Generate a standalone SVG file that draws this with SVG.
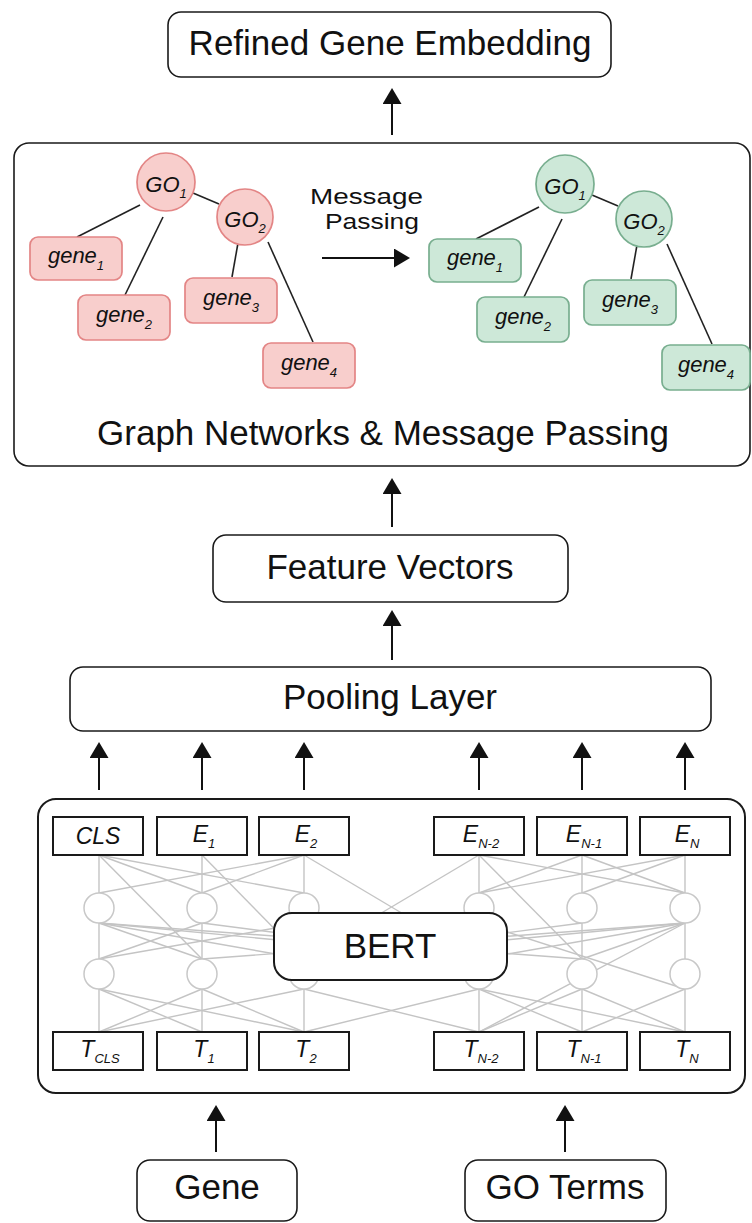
<svg xmlns="http://www.w3.org/2000/svg" width="752" height="1223" viewBox="0 0 752 1223">
  <defs>
    <marker id="ah" markerUnits="userSpaceOnUse" markerWidth="16" markerHeight="19" viewBox="0 0 16 19" refX="0" refY="9.5" orient="auto">
      <path d="M0,0 L16,9.5 L0,19 z" fill="#111"/>
    </marker>
    <style>
      .box { fill: #fff; stroke: #1a1a1a; stroke-width: 1.6; }
      .big { font-family: "Liberation Sans", Arial, sans-serif; font-size: 35px; fill: #111; text-anchor: middle; }
      .mid { font-family: "Liberation Sans", Arial, sans-serif; font-size: 22px; fill: #111; text-anchor: middle; }
      .it { font-family: "Liberation Sans", Arial, sans-serif; font-style: italic; fill: #111; text-anchor: middle; }
      .sub { font-size: 13px; }
      .tok { fill: #fff; stroke: #1a1a1a; stroke-width: 2; }
      .arrow { stroke: #111; stroke-width: 2; fill: none; marker-end: url(#ah); }
      .edge { stroke: #222; stroke-width: 1.6; fill: none; }
      .red { fill: #f8cecc; stroke: #e38585; stroke-width: 1.7; }
      .green { fill: #cde8d8; stroke: #78ae8f; stroke-width: 1.7; }
      .net line { stroke: #c4c4c4; stroke-width: 1.4; }
      .neuron { fill: #fff; stroke: #c8c8c8; stroke-width: 1.5; }
    </style>
  </defs>

  <!-- output -->
  <g id="refined">
    <rect class="box" x="168" y="12" width="443" height="65" rx="13"/>
    <text class="big" x="390" y="55">Refined Gene Embedding</text>
  </g>

  <!-- graph panel -->
  <g id="graph-panel">
    <rect class="box" x="14" y="143" width="736" height="323" rx="15"/>
    <text class="big" x="383" y="445">Graph Networks &amp; Message Passing</text>
    <text class="mid" x="366.5" y="204" textLength="113" lengthAdjust="spacingAndGlyphs">Message</text>
    <text class="mid" x="372" y="229" textLength="94" lengthAdjust="spacingAndGlyphs">Passing</text>
  </g>

  <!-- graph before message passing -->
  <g id="graph-before">
    <line class="edge" x1="193" y1="193" x2="219" y2="204"/>
    <line class="edge" x1="77" y1="237" x2="140" y2="205"/>
    <line class="edge" x1="125" y1="295" x2="163" y2="217"/>
    <line class="edge" x1="232" y1="277" x2="238" y2="243"/>
    <line class="edge" x1="313" y1="342" x2="268" y2="242"/>
    <circle class="red" cx="166" cy="182" r="29"/>
    <circle class="red" cx="245" cy="217" r="28"/>
    <rect class="red" x="30" y="237" width="92" height="43" rx="8"/>
    <rect class="red" x="78" y="295" width="92" height="45" rx="8"/>
    <rect class="red" x="185" y="278" width="92" height="45" rx="8"/>
    <rect class="red" x="263" y="343" width="92" height="45" rx="8"/>
    <text class="it" font-size="22" x="166" y="192">GO<tspan class="sub" dy="6">1</tspan></text>
    <text class="it" font-size="22" x="245" y="227">GO<tspan class="sub" dy="6">2</tspan></text>
    <text class="it" font-size="22" x="76" y="263">gene<tspan class="sub" dy="7">1</tspan></text>
    <text class="it" font-size="22" x="124" y="322">gene<tspan class="sub" dy="7">2</tspan></text>
    <text class="it" font-size="22" x="231" y="305">gene<tspan class="sub" dy="7">3</tspan></text>
    <text class="it" font-size="22" x="309" y="370">gene<tspan class="sub" dy="7">4</tspan></text>
  </g>

  <!-- graph after message passing -->
  <g id="graph-after">
    <line class="edge" x1="592" y1="195" x2="618" y2="206"/>
    <line class="edge" x1="476" y1="239" x2="539" y2="207"/>
    <line class="edge" x1="524" y1="297" x2="562" y2="219"/>
    <line class="edge" x1="631" y1="279" x2="637" y2="245"/>
    <line class="edge" x1="712" y1="344" x2="667" y2="244"/>
    <circle class="green" cx="565" cy="184" r="29"/>
    <circle class="green" cx="644" cy="219" r="28"/>
    <rect class="green" x="429" y="239" width="92" height="43" rx="8"/>
    <rect class="green" x="477" y="297" width="92" height="45" rx="8"/>
    <rect class="green" x="584" y="280" width="92" height="45" rx="8"/>
    <rect class="green" x="662" y="345" width="88" height="45" rx="8"/>
    <text class="it" font-size="22" x="565" y="194">GO<tspan class="sub" dy="6">1</tspan></text>
    <text class="it" font-size="22" x="644" y="229">GO<tspan class="sub" dy="6">2</tspan></text>
    <text class="it" font-size="22" x="475" y="265">gene<tspan class="sub" dy="7">1</tspan></text>
    <text class="it" font-size="22" x="523" y="324">gene<tspan class="sub" dy="7">2</tspan></text>
    <text class="it" font-size="22" x="630" y="307">gene<tspan class="sub" dy="7">3</tspan></text>
    <text class="it" font-size="22" x="706" y="372">gene<tspan class="sub" dy="7">4</tspan></text>
  </g>

  <g id="feature-vectors">
    <rect class="box" x="213" y="535" width="355" height="67" rx="13"/>
    <text class="big" x="390" y="579">Feature Vectors</text>
  </g>

  <g id="pooling">
    <rect class="box" x="70" y="667" width="641" height="64" rx="13"/>
    <text class="big" x="390" y="709">Pooling Layer</text>
  </g>

  <!-- BERT encoder -->
  <g id="bert">
    <rect fill="#fff" stroke="#1a1a1a" stroke-width="2" x="38" y="799" width="707" height="294" rx="18"/>
    <g class="net">
      <!-- column verticals -->
      <line x1="99" y1="855" x2="99" y2="1032"/>
      <line x1="202" y1="855" x2="202" y2="1032"/>
      <line x1="304" y1="855" x2="304" y2="1032"/>
      <line x1="479" y1="855" x2="479" y2="1032"/>
      <line x1="582" y1="855" x2="582" y2="1032"/>
      <line x1="685" y1="855" x2="685" y2="1032"/>
      <!-- outputs to upper layer -->
      <line x1="99" y1="855" x2="202" y2="893"/>
      <line x1="99" y1="855" x2="304" y2="893"/>
      <line x1="99" y1="855" x2="202" y2="959"/>
      <line x1="202" y1="855" x2="304" y2="959"/>
      <line x1="304" y1="855" x2="99" y2="893"/>
      <line x1="304" y1="855" x2="202" y2="893"/>
      <line x1="304" y1="855" x2="479" y2="959"/>
      <line x1="479" y1="855" x2="304" y2="959"/>
      <line x1="479" y1="855" x2="582" y2="959"/>
      <line x1="479" y1="855" x2="685" y2="893"/>
      <line x1="582" y1="855" x2="479" y2="893"/>
      <line x1="582" y1="855" x2="685" y2="893"/>
      <line x1="685" y1="855" x2="582" y2="893"/>
      <line x1="685" y1="855" x2="479" y2="893"/>
      <!-- upper layer to lower layer -->
      <line x1="99" y1="923" x2="202" y2="959"/>
      <line x1="99" y1="923" x2="304" y2="959"/>
      <line x1="99" y1="923" x2="479" y2="959"/>
      <line x1="99" y1="923" x2="582" y2="959"/>
      <line x1="202" y1="923" x2="99" y2="959"/>
      <line x1="202" y1="923" x2="479" y2="959"/>
      <line x1="304" y1="923" x2="99" y2="959"/>
      <line x1="685" y1="923" x2="582" y2="959"/>
      <line x1="685" y1="923" x2="479" y2="959"/>
      <line x1="685" y1="923" x2="304" y2="959"/>
      <line x1="685" y1="923" x2="202" y2="959"/>
      <line x1="582" y1="923" x2="304" y2="959"/>
      <line x1="479" y1="923" x2="685" y2="989"/>
      <line x1="685" y1="923" x2="479" y2="1032"/>
      <!-- lower layer to token inputs -->
      <line x1="99" y1="989" x2="202" y2="1032"/>
      <line x1="99" y1="989" x2="304" y2="1032"/>
      <line x1="202" y1="989" x2="99" y2="1032"/>
      <line x1="202" y1="989" x2="304" y2="1032"/>
      <line x1="304" y1="989" x2="99" y2="1032"/>
      <line x1="304" y1="989" x2="479" y2="1032"/>
      <line x1="479" y1="989" x2="304" y2="1032"/>
      <line x1="479" y1="989" x2="582" y2="1032"/>
      <line x1="479" y1="989" x2="685" y2="1032"/>
      <line x1="582" y1="989" x2="479" y2="1032"/>
      <line x1="582" y1="989" x2="685" y2="1032"/>
      <line x1="685" y1="989" x2="582" y2="1032"/>
    </g>
    <g id="neurons">
      <circle class="neuron" cx="99" cy="908" r="15"/>
      <circle class="neuron" cx="202" cy="908" r="15"/>
      <circle class="neuron" cx="304" cy="908" r="15"/>
      <circle class="neuron" cx="479" cy="908" r="15"/>
      <circle class="neuron" cx="582" cy="908" r="15"/>
      <circle class="neuron" cx="685" cy="908" r="15"/>
      <circle class="neuron" cx="99" cy="974" r="15"/>
      <circle class="neuron" cx="202" cy="974" r="15"/>
      <circle class="neuron" cx="304" cy="974" r="15"/>
      <circle class="neuron" cx="479" cy="974" r="15"/>
      <circle class="neuron" cx="582" cy="974" r="15"/>
      <circle class="neuron" cx="685" cy="974" r="15"/>
    </g>
    <g id="bert-core">
      <rect fill="#fff" stroke="#1a1a1a" stroke-width="2" x="274" y="913" width="233" height="67" rx="18"/>
      <text class="big" x="390" y="958">BERT</text>
    </g>
  </g>

  <!-- output embeddings -->
  <g id="emb-cls"><rect class="tok" x="53" y="817" width="90" height="38"/><text class="it" font-size="23" x="98" y="844">CLS</text></g>
  <g id="emb-1"><rect class="tok" x="157" y="817" width="90" height="38"/><text class="it" font-size="23" x="204" y="842">E<tspan class="sub" dy="6">1</tspan></text></g>
  <g id="emb-2"><rect class="tok" x="259" y="817" width="90" height="38"/><text class="it" font-size="23" x="306" y="842">E<tspan class="sub" dy="6">2</tspan></text></g>
  <g id="emb-n2"><rect class="tok" x="434" y="817" width="90" height="38"/><text class="it" font-size="23" x="481" y="842">E<tspan class="sub" dy="6">N-2</tspan></text></g>
  <g id="emb-n1"><rect class="tok" x="537" y="817" width="90" height="38"/><text class="it" font-size="23" x="584" y="842">E<tspan class="sub" dy="6">N-1</tspan></text></g>
  <g id="emb-n"><rect class="tok" x="640" y="817" width="90" height="38"/><text class="it" font-size="23" x="687" y="842">E<tspan class="sub" dy="6">N</tspan></text></g>

  <!-- input tokens -->
  <g id="tok-cls"><rect class="tok" x="53" y="1032" width="90" height="38"/><text class="it" font-size="23" x="100" y="1057">T<tspan class="sub" dy="6">CLS</tspan></text></g>
  <g id="tok-1"><rect class="tok" x="157" y="1032" width="90" height="38"/><text class="it" font-size="23" x="204" y="1057">T<tspan class="sub" dy="6">1</tspan></text></g>
  <g id="tok-2"><rect class="tok" x="259" y="1032" width="90" height="38"/><text class="it" font-size="23" x="306" y="1057">T<tspan class="sub" dy="6">2</tspan></text></g>
  <g id="tok-n2"><rect class="tok" x="434" y="1032" width="90" height="38"/><text class="it" font-size="23" x="481" y="1057">T<tspan class="sub" dy="6">N-2</tspan></text></g>
  <g id="tok-n1"><rect class="tok" x="537" y="1032" width="90" height="38"/><text class="it" font-size="23" x="584" y="1057">T<tspan class="sub" dy="6">N-1</tspan></text></g>
  <g id="tok-n"><rect class="tok" x="640" y="1032" width="90" height="38"/><text class="it" font-size="23" x="687" y="1057">T<tspan class="sub" dy="6">N</tspan></text></g>

  <!-- inputs -->
  <g id="gene">
    <rect class="box" x="137" y="1160" width="160" height="61" rx="13"/>
    <text class="big" x="217" y="1199">Gene</text>
  </g>
  <g id="go-terms">
    <rect class="box" x="465" y="1160" width="201" height="61" rx="13"/>
    <text class="big" x="565" y="1199">GO Terms</text>
  </g>

  <!-- connectors -->
  <g id="connectors">
    <line class="arrow" x1="392" y1="135" x2="392" y2="104"/>
    <line class="arrow" x1="322" y1="258" x2="394" y2="258"/>
    <line class="arrow" x1="392" y1="527" x2="392" y2="494"/>
    <line class="arrow" x1="392" y1="660" x2="392" y2="626"/>
    <line class="arrow" x1="99" y1="790" x2="99" y2="758"/>
    <line class="arrow" x1="202" y1="790" x2="202" y2="758"/>
    <line class="arrow" x1="304" y1="790" x2="304" y2="758"/>
    <line class="arrow" x1="479" y1="790" x2="479" y2="758"/>
    <line class="arrow" x1="582" y1="790" x2="582" y2="758"/>
    <line class="arrow" x1="685" y1="790" x2="685" y2="758"/>
    <line class="arrow" x1="216" y1="1152" x2="216" y2="1121"/>
    <line class="arrow" x1="565" y1="1152" x2="565" y2="1121"/>
  </g>
</svg>
